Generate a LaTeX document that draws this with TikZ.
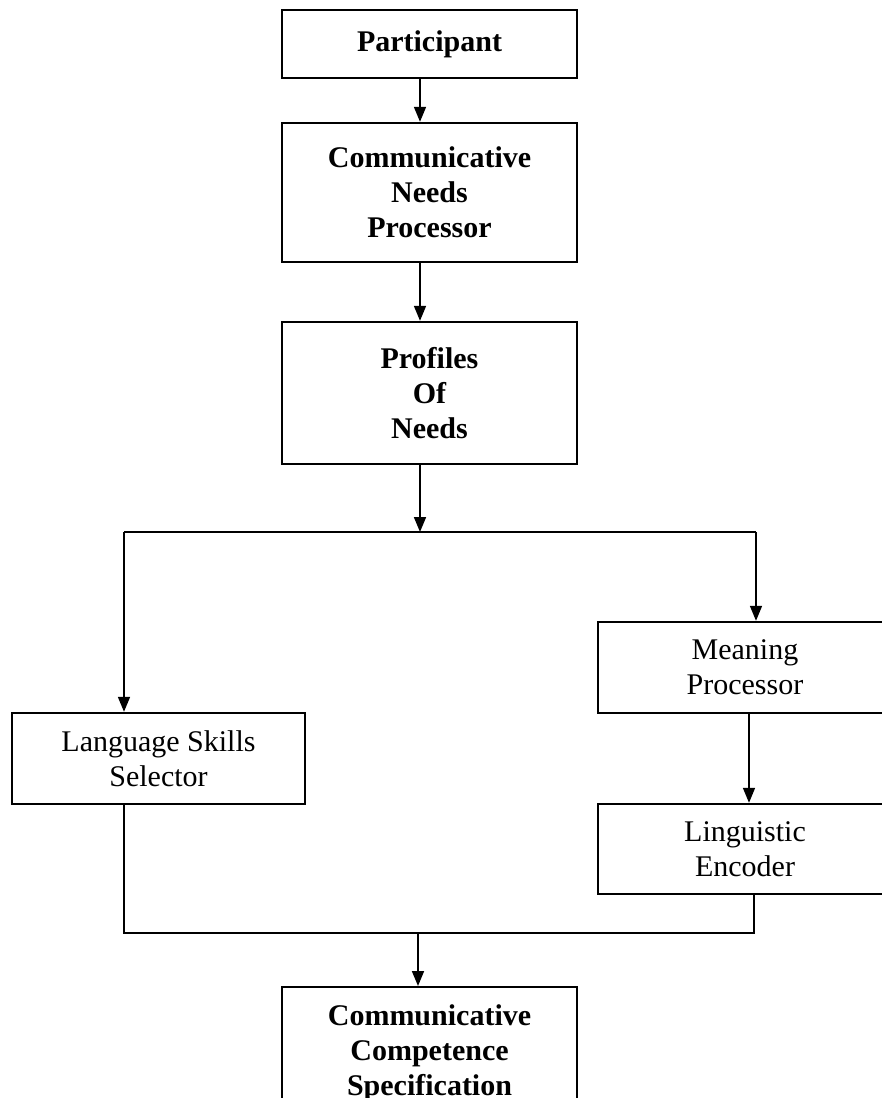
\documentclass[tikz,border=0pt]{standalone}
\usepackage{fontspec}
\setmainfont{Liberation Serif}
\usetikzlibrary{arrows.meta}

\tikzset{
  box/.style={draw, line width=2.4pt, inner sep=0pt, align=center,
    font=\fontsize{30}{35}\selectfont},
  boldbox/.style={box, font=\fontsize{30}{35}\selectfont\bfseries},
  link/.style={line width=1.7pt},
  arr/.style={link, -{Triangle[length=15pt,width=12pt]}}
}

\begin{document}
\begin{tikzpicture}[x=1pt,y=-1pt]
\useasboundingbox (0,0) rectangle (882,1098);
\clip (0,0) rectangle (882,1098);

% main column
\node[boldbox, minimum width=295pt, minimum height=68pt] (part) at (429.5,44) {Participant};
\node[boldbox, minimum width=295pt, minimum height=139pt] (cnp) at (429.5,192.5) {Communicative\\Needs\\Processor};
\node[boldbox, minimum width=295pt, minimum height=142pt] (prof) at (429.5,393) {Profiles\\Of\\Needs};

% branches
\node[box, minimum width=293pt, minimum height=91pt] (lss) at (158.5,758.5) {Language Skills\\Selector};
\node[box, minimum width=294pt, minimum height=91pt] (mean) at (745,667.5) {Meaning\\Processor};
\node[box, minimum width=294pt, minimum height=90pt] (le) at (745,849) {Linguistic\\Encoder};

% result
\node[boldbox, minimum width=295pt, anchor=north, inner ysep=17pt] (ccs) at (429.5,986) {Communicative\\Competence\\Specification\\[2pt]};

% junction points
\coordinate (jt) at (420,532);
\coordinate (tl) at (124,532);
\coordinate (tr) at (756,532);
\coordinate (bl) at (124,933);
\coordinate (br) at (754,933);
\coordinate (jb) at (418,933);

% connectors
\draw[arr] ([xshift=-9.5pt]part.south) -- ([xshift=-9.5pt]cnp.north);
\draw[arr] ([xshift=-9.5pt]cnp.south) -- ([xshift=-9.5pt]prof.north);
\draw[arr] (prof.south -| jt) -- (jt);
\draw[link] (tl) -- (tr);
\draw[arr] (tl) -- (tl |- lss.north);
\draw[arr] (tr) -- (tr |- mean.north);
\draw[arr] ([xshift=4pt]mean.south) -- ([xshift=4pt]le.north);
\draw[link] (bl |- lss.south) -- (bl) -- (br) -- (br |- le.south);
\draw[arr] (jb) -- (jb |- ccs.north);
\end{tikzpicture}
\end{document}
